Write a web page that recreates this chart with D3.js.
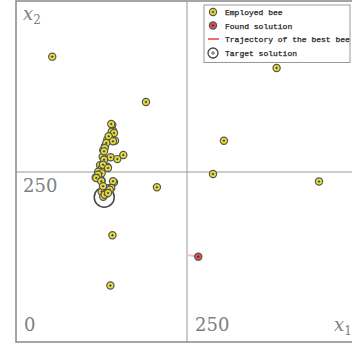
<!DOCTYPE html>
<html>
<head>
<meta charset="utf-8">
<script src="https://cdn.jsdelivr.net/npm/d3@7/dist/d3.min.js"></script>
<style>
  html, body { margin: 0; padding: 0; background: #fff; }
  svg { display: block; }
</style>
</head>
<body>
<div id="chart"></div>
<script>
// Employed bees (x1, x2)
const beesX = [53, 190, 381, 304, 288, 443, 206, 141, 138,
  140.8, 141.8, 139.9, 133.5, 144.7, 130.1, 127.6, 126.7, 138.4, 148.1, 156.9,
  122.8, 133.5, 125.3, 120.3, 125.3, 116.5, 122.8, 125.3, 143.3, 127.6, 134.9,
  125.3, 132.6, 127.6,
  139.3, 143.3, 135.5, 141.8, 132, 129.7, 128.7, 128.7, 127.2, 134.5,
  119.9, 117.4, 124.7, 141.8, 127.2, 139.3, 137, 129.7, 134.5];
const beesY = [419.6, 353, 403, 296, 247, 236, 227.5, 157, 83,
  319, 310.7, 309.3, 298, 296, 288, 282, 272.5, 271.6, 269, 275,
  260, 257.8, 255.4, 250.4, 248, 242, 239.2, 237.2, 234.8, 226, 226,
  221, 218.7, 213.7,
  320.6, 307.4, 302.5, 295.1, 292.6, 285.3, 280.4, 268.1, 260.7, 255.9,
  246, 241.2, 236.3, 236.3, 229, 226.5, 224, 216.6, 219.1];

// Best solution found and its trajectory
const foundX = [266.5];
const foundY = [125.5];
const trajX = [252, 266.5];
const trajY = [128, 125.5];

// Target solution
const targetX = [129];
const targetY = [213];

const tickValues = [0, 250];
const legendLabels = ["Employed bee", "Found solution", "Trajectory of the best bee", "Target solution"];

const W = 352, H = 347;
const svg = d3.select("#chart").append("svg").attr("width", W).attr("height", H);

const x = d3.scaleLinear().domain([0, 500]).range([16, 358]);
const y = d3.scaleLinear().domain([0, 500]).range([342, 2]);

// middle grid lines
svg.append("line").attr("x1", x(250)).attr("x2", x(250)).attr("y1", y(500)).attr("y2", y(0))
  .attr("stroke", "#999").attr("stroke-width", 1);
svg.append("line").attr("x1", x(0)).attr("x2", x(500)).attr("y1", y(250)).attr("y2", y(250))
  .attr("stroke", "#999").attr("stroke-width", 1);

// frame
svg.append("rect").attr("x", x(0)).attr("y", y(500) - 1).attr("width", x(500) - x(0)).attr("height", y(0) - y(500) + 1)
  .attr("fill", "none").attr("stroke", "#888").attr("stroke-width", 1.5);

// tick labels drawn inside the frame
const serif = "'DejaVu Serif', serif";
const tickColor = "#808080";
svg.append("text").attr("x", x(0) + 8).attr("y", y(0) - 11).text(tickValues[0])
  .attr("font-family", serif).attr("font-size", 18).attr("fill", tickColor);
svg.append("text").attr("x", x(0) + 7).attr("y", y(250) + 20).text(tickValues[1])
  .attr("font-family", serif).attr("font-size", 18).attr("fill", tickColor);
svg.append("text").attr("x", x(250) + 8).attr("y", y(0) - 11).text(tickValues[1])
  .attr("font-family", serif).attr("font-size", 18).attr("fill", tickColor);

const lab2 = svg.append("text").attr("x", x(0) + 7).attr("y", 20)
  .attr("font-family", serif).attr("font-size", 18).attr("fill", tickColor);
lab2.append("tspan").attr("font-style", "italic").text("x");
lab2.append("tspan").attr("font-size", 12).attr("dy", 4).text("2");
const lab1 = svg.append("text").attr("x", 334).attr("y", y(0) - 11)
  .attr("font-family", serif).attr("font-size", 18).attr("fill", tickColor);
lab1.append("tspan").attr("font-style", "italic").text("x");
lab1.append("tspan").attr("font-size", 12).attr("dy", 4).text("1");

// marker helper: filled circle with a small cross
function marker(g, cx, cy, fill) {
  g.append("circle").attr("cx", cx).attr("cy", cy).attr("r", 3.6)
    .attr("fill", fill).attr("stroke", "#555").attr("stroke-width", 1.2);
  g.append("path").attr("d", `M${cx - 1.2},${cy}H${cx + 1.2}M${cx},${cy - 1.2}V${cy + 1.2}`)
    .attr("stroke", "#333").attr("stroke-width", 0.9);
}

// target solution
targetX.forEach((tx, i) => {
  svg.append("circle").attr("cx", x(tx)).attr("cy", y(targetY[i])).attr("r", 10)
    .attr("fill", "none").attr("stroke", "#444").attr("stroke-width", 1.5);
});

// employed bees
const beeG = svg.append("g");
beesX.forEach((bx, i) => marker(beeG, x(bx), y(beesY[i]), "#e8df3a"));

// trajectory of the best bee
const line = d3.line().x(d => x(d[0])).y(d => y(d[1]));
svg.append("path").datum(trajX.map((v, i) => [v, trajY[i]])).attr("d", line)
  .attr("fill", "none").attr("stroke", "#f07070").attr("stroke-width", 2).attr("opacity", 0.45);

// found solution
foundX.forEach((fx, i) => marker(svg, x(fx), y(foundY[i]), "#e05050"));

// legend
const lg = svg.append("g");
lg.append("rect").attr("x", 204).attr("y", 5).attr("width", 146).attr("height", 57.5)
  .attr("fill", "#fff").attr("stroke", "#999").attr("stroke-width", 1);
const rowY = [12, 25.5, 39, 53];
marker(lg, 213, rowY[0], "#e8df3a");
marker(lg, 213, rowY[1], "#e05050");
lg.append("line").attr("x1", 208).attr("x2", 219).attr("y1", rowY[2]).attr("y2", rowY[2])
  .attr("stroke", "#f07070").attr("stroke-width", 2);
lg.append("circle").attr("cx", 213).attr("cy", rowY[3]).attr("r", 5)
  .attr("fill", "none").attr("stroke", "#444").attr("stroke-width", 1.3);
lg.append("path").attr("d", `M${211},${rowY[3]}H${215}M${213},${rowY[3] - 2}V${rowY[3] + 2}`)
  .attr("stroke", "#444").attr("stroke-width", 0.8);
legendLabels.forEach((t, i) => {
  lg.append("text").attr("x", 225).attr("y", rowY[i] + 3).text(t)
    .attr("font-family", "'Liberation Mono', monospace").attr("font-size", 8)
    .attr("fill", "#222").attr("stroke", "#222").attr("stroke-width", 0.25);
});
</script>
</body>
</html>
